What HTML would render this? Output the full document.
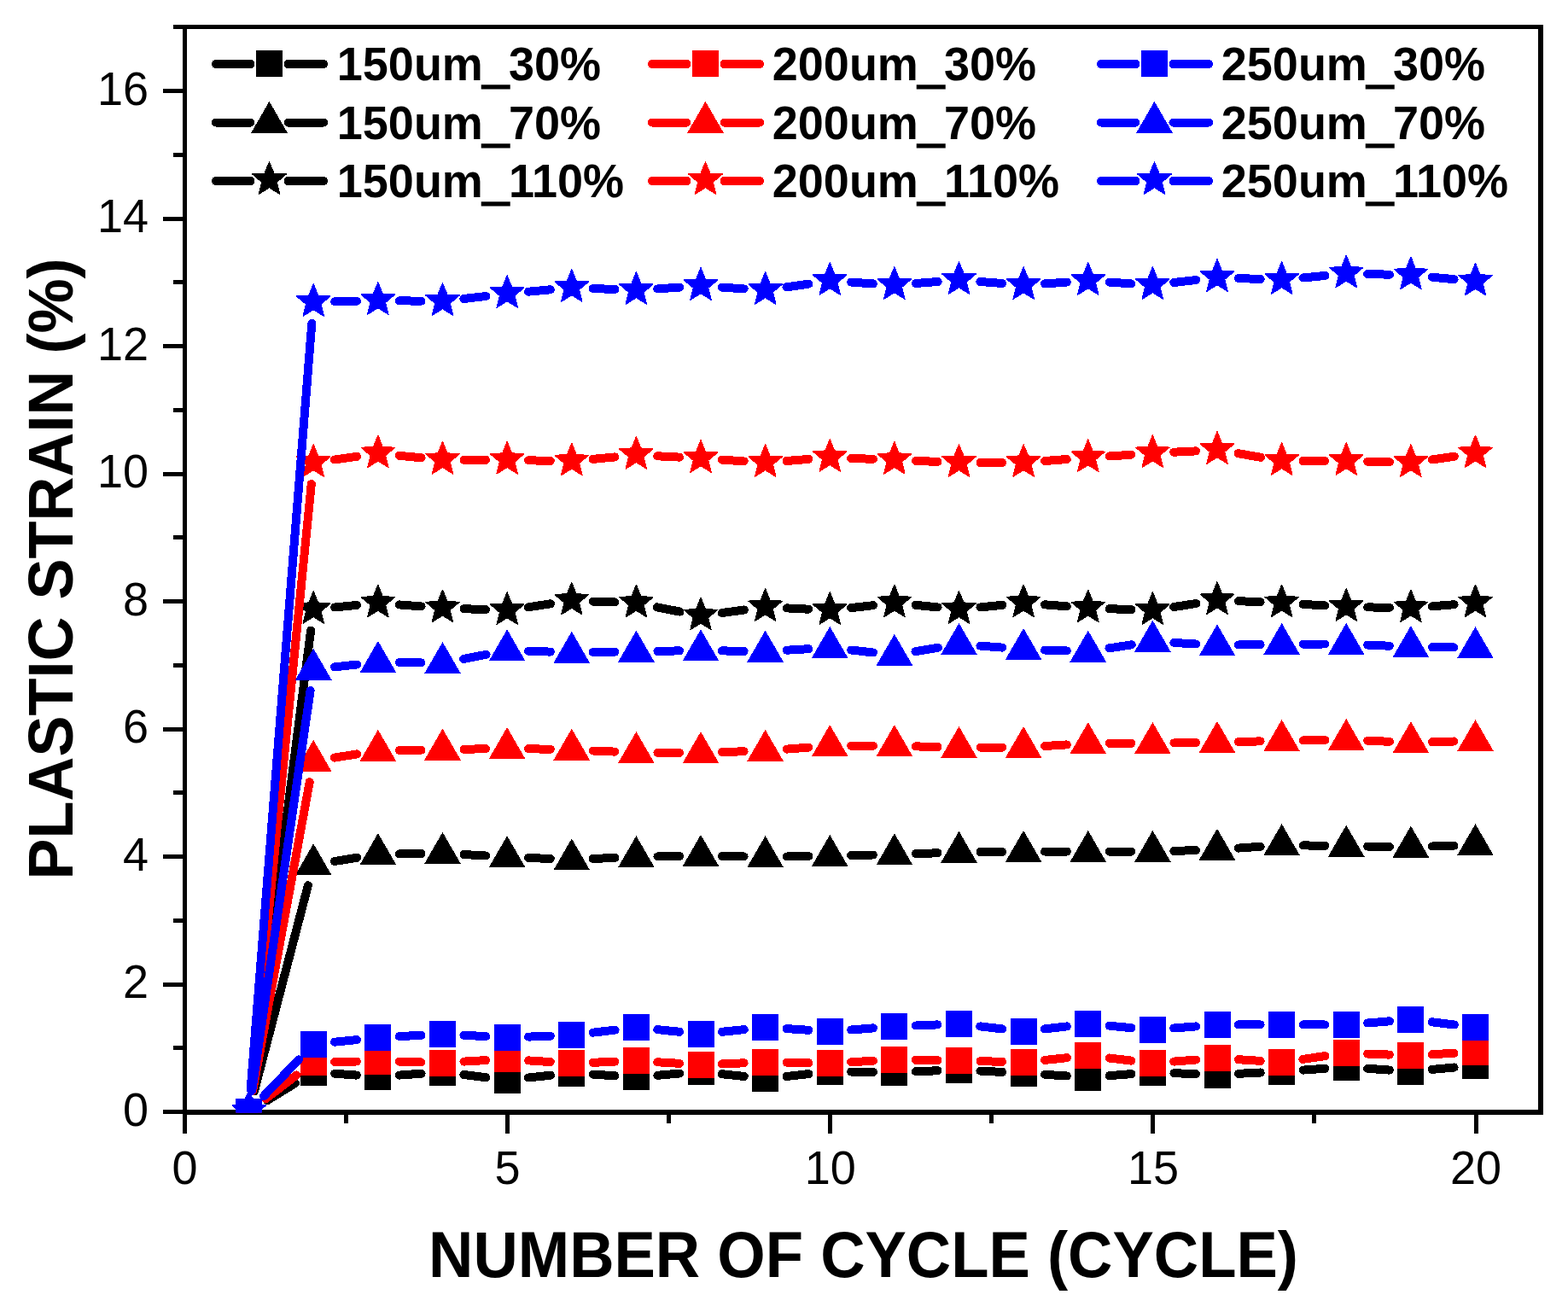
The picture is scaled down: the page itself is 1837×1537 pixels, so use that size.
<!DOCTYPE html>
<html><head><meta charset="utf-8"><title>Plastic strain vs number of cycle</title>
<style>html,body{margin:0;padding:0;background:#fff;overflow:hidden;}svg{display:block;}.t{font-family:"Liberation Sans",Arial,sans-serif;}</style>
</head><body>
<svg width="1837" height="1537" viewBox="0 0 1837 1537" shape-rendering="crispEdges">
<g fill="#000">
<rect x="214" y="29" width="1594" height="5"/>
<rect x="214" y="1300" width="1594" height="6"/>
<rect x="214" y="29" width="5" height="1277"/>
<rect x="1802" y="29" width="6" height="1277"/>
<rect x="191" y="1300" width="24" height="5"/>
<rect x="203" y="1225.2" width="12" height="5"/>
<rect x="191" y="1150.5" width="24" height="5"/>
<rect x="203" y="1075.8" width="12" height="5"/>
<rect x="191" y="1001" width="24" height="5"/>
<rect x="203" y="926.2" width="12" height="5"/>
<rect x="191" y="851.5" width="24" height="5"/>
<rect x="203" y="776.8" width="12" height="5"/>
<rect x="191" y="702" width="24" height="5"/>
<rect x="203" y="627.2" width="12" height="5"/>
<rect x="191" y="552.5" width="24" height="5"/>
<rect x="203" y="477.8" width="12" height="5"/>
<rect x="191" y="403" width="24" height="5"/>
<rect x="203" y="328.2" width="12" height="5"/>
<rect x="191" y="253.5" width="24" height="5"/>
<rect x="203" y="178.8" width="12" height="5"/>
<rect x="191" y="104" width="24" height="5"/>
<rect x="203" y="29.2" width="12" height="5"/>
<rect x="214" y="1303" width="5" height="25"/>
<rect x="403.1" y="1303" width="5" height="13"/>
<rect x="592.1" y="1303" width="5" height="25"/>
<rect x="781.2" y="1303" width="5" height="13"/>
<rect x="970.2" y="1303" width="5" height="25"/>
<rect x="1159.3" y="1303" width="5" height="13"/>
<rect x="1348.4" y="1303" width="5" height="25"/>
<rect x="1537.4" y="1303" width="5" height="13"/>
<rect x="1726.5" y="1303" width="5" height="25"/>
</g>
<g class="t" font-size="54" fill="#000">
<text transform="translate(174 1318.9) scale(1 1.04)" text-anchor="end">0</text>
<text transform="translate(174 1169.4) scale(1 1.04)" text-anchor="end">2</text>
<text transform="translate(174 1019.9) scale(1 1.04)" text-anchor="end">4</text>
<text transform="translate(174 870.4) scale(1 1.04)" text-anchor="end">6</text>
<text transform="translate(174 720.9) scale(1 1.04)" text-anchor="end">8</text>
<text transform="translate(174 571.4) scale(1 1.04)" text-anchor="end">10</text>
<text transform="translate(174 421.9) scale(1 1.04)" text-anchor="end">12</text>
<text transform="translate(174 272.4) scale(1 1.04)" text-anchor="end">14</text>
<text transform="translate(174 122.9) scale(1 1.04)" text-anchor="end">16</text>
<text transform="translate(216.5 1387) scale(1 1.04)" text-anchor="middle">0</text>
<text transform="translate(594.6 1387) scale(1 1.04)" text-anchor="middle">5</text>
<text transform="translate(972.8 1387) scale(1 1.04)" text-anchor="middle">10</text>
<text transform="translate(1350.9 1387) scale(1 1.04)" text-anchor="middle">15</text>
<text transform="translate(1729 1387) scale(1 1.04)" text-anchor="middle">20</text>
</g>
<g class="t" font-size="72.5" font-weight="bold" fill="#000">
<text transform="translate(1011.5 1496) scale(1 1.04)" text-anchor="middle">NUMBER OF CYCLE (CYCLE)</text>
<text transform="translate(85 666.5) rotate(-90) scale(1 1.04)" text-anchor="middle" font-size="72">PLASTIC STRAIN (%)</text>
</g>
<defs><clipPath id="pa"><rect x="216.5" y="31.5" width="1588.5" height="1272"/></clipPath></defs>
<g clip-path="url(#pa)">
<path d="M313 1289.2L345.9 1269M392.2 1257.7L417.9 1259.6M467.8 1259.6L493.6 1257.7M543.3 1259L569.3 1262.2M619 1262.5L644.9 1259.7M694.7 1258.6L720.4 1260.3M770.3 1259.8L796.1 1257.5M845.8 1258.2L871.8 1261M921.5 1261L947.4 1258.1M997.2 1255.6L1022.9 1255.9M1072.9 1255.2L1098.5 1254.3M1148.5 1254.6L1174.2 1255.9M1224.1 1258.8L1249.8 1260.5M1299.7 1260.2L1325.5 1258.1M1375.4 1257.2L1401 1258.1M1451 1257.8L1476.7 1256.5M1526.6 1253.6L1552.3 1251.8M1602.2 1251.8L1627.9 1253.6M1677.8 1252.9L1703.6 1250.5" stroke="#000" stroke-width="10" stroke-linecap="round" fill="none"/>
<rect x="276.1" y="1286.7" width="31" height="31" fill="#000"/>
<rect x="351.8" y="1240.5" width="31" height="31" fill="#000"/>
<rect x="427.4" y="1245.8" width="31" height="31" fill="#000"/>
<rect x="503" y="1240.5" width="31" height="31" fill="#000"/>
<rect x="578.6" y="1249.7" width="31" height="31" fill="#000"/>
<rect x="654.2" y="1241.5" width="31" height="31" fill="#000"/>
<rect x="729.9" y="1246.4" width="31" height="31" fill="#000"/>
<rect x="805.5" y="1239.9" width="31" height="31" fill="#000"/>
<rect x="881.1" y="1248.3" width="31" height="31" fill="#000"/>
<rect x="956.8" y="1239.8" width="31" height="31" fill="#000"/>
<rect x="1032.4" y="1240.7" width="31" height="31" fill="#000"/>
<rect x="1108" y="1237.8" width="31" height="31" fill="#000"/>
<rect x="1183.6" y="1241.7" width="31" height="31" fill="#000"/>
<rect x="1259.2" y="1246.6" width="31" height="31" fill="#000"/>
<rect x="1334.9" y="1240.7" width="31" height="31" fill="#000"/>
<rect x="1410.5" y="1243.6" width="31" height="31" fill="#000"/>
<rect x="1486.1" y="1239.7" width="31" height="31" fill="#000"/>
<rect x="1561.8" y="1234.7" width="31" height="31" fill="#000"/>
<rect x="1637.4" y="1239.7" width="31" height="31" fill="#000"/>
<rect x="1713" y="1232.7" width="31" height="31" fill="#000"/>
<path d="M297.9 1278.3L360.9 1037.2M391.9 1009L418.2 1004.8M467.9 1000.4L493.5 1000M543.5 1001L569.2 1002.5M619.1 1004.9L644.8 1006M694.7 1006L720.4 1004.9M770.4 1003.5L796 1003M846 1003L871.6 1003.5M921.6 1003.5L947.3 1003M997.2 1002.1L1022.9 1001.5M1072.9 1000.1L1098.5 999.3M1148.5 998.1L1174.1 997.9M1224.1 997.6L1249.8 997.6M1299.8 997.6L1325.4 997.6M1375.4 996.9L1401 996.1M1450.9 993.6L1476.7 991.7M1526.6 990.4L1552.3 990.8M1602.2 991.6L1627.9 992M1677.9 991.5L1703.5 990.7" stroke="#000" stroke-width="10" stroke-linecap="round" fill="none"/>
<polygon points="291.6,1277.8 313,1314.8 270.2,1314.8" fill="#000"/>
<polygon points="367.2,988.3 388.6,1025.3 345.9,1025.3" fill="#000"/>
<polygon points="442.9,976.1 464.3,1013.1 421.5,1013.1" fill="#000"/>
<polygon points="518.5,974.9 539.9,1012 497.1,1012" fill="#000"/>
<polygon points="594.1,979.2 615.5,1016.2 572.7,1016.2" fill="#000"/>
<polygon points="669.8,982.3 691.1,1019.4 648.4,1019.4" fill="#000"/>
<polygon points="745.4,979.2 766.8,1016.2 724,1016.2" fill="#000"/>
<polygon points="821,977.9 842.4,1015 799.6,1015" fill="#000"/>
<polygon points="896.6,979.2 918,1016.2 875.2,1016.2" fill="#000"/>
<polygon points="972.2,977.9 993.6,1015 950.9,1015" fill="#000"/>
<polygon points="1047.9,976.3 1069.3,1013.4 1026.5,1013.4" fill="#000"/>
<polygon points="1123.5,973.7 1144.9,1010.8 1102.1,1010.8" fill="#000"/>
<polygon points="1199.1,972.9 1220.5,1010 1177.7,1010" fill="#000"/>
<polygon points="1274.8,972.9 1296.1,1010 1253.4,1010" fill="#000"/>
<polygon points="1350.4,972.9 1371.8,1010 1329,1010" fill="#000"/>
<polygon points="1426,970.7 1447.4,1007.8 1404.6,1007.8" fill="#000"/>
<polygon points="1501.6,965.2 1523,1002.2 1480.2,1002.2" fill="#000"/>
<polygon points="1577.2,966.6 1598.6,1003.6 1555.9,1003.6" fill="#000"/>
<polygon points="1652.9,967.6 1674.3,1004.6 1631.5,1004.6" fill="#000"/>
<polygon points="1728.5,965.2 1749.9,1002.2 1707.1,1002.2" fill="#000"/>
<path d="M294.8 1276.7L364.1 738.7M392.1 711.5L418 708.9M467.8 708.4L493.6 710.4M543.5 713.2L569.1 714.1M618.8 711.3L645 707.3M694.7 704.6L720.4 705.5M769.9 711.3L796.5 716.6M845.8 718L871.9 714.5M921.6 712.4L947.3 713.7M997.1 712.1L1023 709.2M1072.7 708.8L1098.6 711.4M1148.4 711.4L1174.3 708.8M1224 708.3L1249.8 710.3M1299.7 713.2L1325.4 714.1M1375.1 711.1L1401.3 707M1451 704.2L1476.6 705.2M1526.6 707.9L1552.3 709.4M1602.2 711.4L1627.9 711.8M1677.8 710.3L1703.6 708.2" stroke="#000" stroke-width="10" stroke-linecap="round" fill="none"/>
<polygon points="291.6,1280.5 297.1,1294 311.6,1295 300.5,1304.4 304,1318.5 291.6,1310.8 279.3,1318.5 282.8,1304.4 271.7,1295 286.2,1294" fill="#000" stroke="#000" stroke-width="1" stroke-linejoin="bevel"/>
<polygon points="367.2,692.4 372.7,705.9 387.2,706.9 376.1,716.3 379.6,730.4 367.2,722.7 354.9,730.4 358.4,716.3 347.3,706.9 361.8,705.9" fill="#000" stroke="#000" stroke-width="1" stroke-linejoin="bevel"/>
<polygon points="442.9,685 448.3,698.5 462.8,699.5 451.7,708.9 455.2,723 442.9,715.3 430.5,723 434,708.9 422.9,699.5 437.4,698.5" fill="#000" stroke="#000" stroke-width="1" stroke-linejoin="bevel"/>
<polygon points="518.5,690.8 524,704.3 538.5,705.3 527.3,714.7 530.8,728.8 518.5,721.1 506.2,728.8 509.7,714.7 498.5,705.3 513,704.3" fill="#000" stroke="#000" stroke-width="1" stroke-linejoin="bevel"/>
<polygon points="594.1,693.5 599.6,707 614.1,708 603,717.4 606.5,731.5 594.1,723.8 581.8,731.5 585.3,717.4 574.2,708 588.7,707" fill="#000" stroke="#000" stroke-width="1" stroke-linejoin="bevel"/>
<polygon points="669.8,682.1 675.2,695.6 689.7,696.6 678.6,706 682.1,720.1 669.8,712.4 657.4,720.1 660.9,706 649.8,696.6 664.3,695.6" fill="#000" stroke="#000" stroke-width="1" stroke-linejoin="bevel"/>
<polygon points="745.4,685 750.8,698.5 765.3,699.5 754.2,708.9 757.7,723 745.4,715.3 733,723 736.5,708.9 725.4,699.5 739.9,698.5" fill="#000" stroke="#000" stroke-width="1" stroke-linejoin="bevel"/>
<polygon points="821,699.9 826.5,713.4 841,714.4 829.8,723.8 833.3,737.9 821,730.2 808.7,737.9 812.2,723.8 801,714.4 815.5,713.4" fill="#000" stroke="#000" stroke-width="1" stroke-linejoin="bevel"/>
<polygon points="896.6,689.6 902.1,703.1 916.6,704.1 905.5,713.5 909,727.6 896.6,719.9 884.3,727.6 887.8,713.5 876.7,704.1 891.2,703.1" fill="#000" stroke="#000" stroke-width="1" stroke-linejoin="bevel"/>
<polygon points="972.2,693.5 977.7,707 992.2,708 981.1,717.4 984.6,731.5 972.2,723.8 959.9,731.5 963.4,717.4 952.3,708 966.8,707" fill="#000" stroke="#000" stroke-width="1" stroke-linejoin="bevel"/>
<polygon points="1047.9,684.8 1053.3,698.3 1067.8,699.3 1056.7,708.7 1060.2,722.8 1047.9,715.1 1035.5,722.8 1039,708.7 1027.9,699.3 1042.4,698.3" fill="#000" stroke="#000" stroke-width="1" stroke-linejoin="bevel"/>
<polygon points="1123.5,692.4 1129,705.9 1143.5,706.9 1132.3,716.3 1135.8,730.4 1123.5,722.7 1111.2,730.4 1114.7,716.3 1103.5,706.9 1118,705.9" fill="#000" stroke="#000" stroke-width="1" stroke-linejoin="bevel"/>
<polygon points="1199.1,684.8 1204.6,698.3 1219.1,699.3 1208,708.7 1211.5,722.8 1199.1,715.1 1186.8,722.8 1190.3,708.7 1179.2,699.3 1193.7,698.3" fill="#000" stroke="#000" stroke-width="1" stroke-linejoin="bevel"/>
<polygon points="1274.8,690.8 1280.2,704.3 1294.7,705.3 1283.6,714.7 1287.1,728.8 1274.8,721.1 1262.4,728.8 1265.9,714.7 1254.8,705.3 1269.3,704.3" fill="#000" stroke="#000" stroke-width="1" stroke-linejoin="bevel"/>
<polygon points="1350.4,693.5 1355.8,707 1370.3,708 1359.2,717.4 1362.7,731.5 1350.4,723.8 1338,731.5 1341.5,717.4 1330.4,708 1344.9,707" fill="#000" stroke="#000" stroke-width="1" stroke-linejoin="bevel"/>
<polygon points="1426,681.6 1431.5,695.1 1446,696.1 1434.8,705.5 1438.3,719.6 1426,711.9 1413.7,719.6 1417.2,705.5 1406,696.1 1420.5,695.1" fill="#000" stroke="#000" stroke-width="1" stroke-linejoin="bevel"/>
<polygon points="1501.6,684.8 1507.1,698.3 1521.6,699.3 1510.5,708.7 1514,722.8 1501.6,715.1 1489.3,722.8 1492.8,708.7 1481.7,699.3 1496.2,698.3" fill="#000" stroke="#000" stroke-width="1" stroke-linejoin="bevel"/>
<polygon points="1577.2,689.5 1582.7,703 1597.2,704 1586.1,713.4 1589.6,727.5 1577.2,719.8 1564.9,727.5 1568.4,713.4 1557.3,704 1571.8,703" fill="#000" stroke="#000" stroke-width="1" stroke-linejoin="bevel"/>
<polygon points="1652.9,690.7 1658.3,704.2 1672.8,705.2 1661.7,714.6 1665.2,728.7 1652.9,721 1640.5,728.7 1644,714.6 1632.9,705.2 1647.4,704.2" fill="#000" stroke="#000" stroke-width="1" stroke-linejoin="bevel"/>
<polygon points="1728.5,684.8 1734,698.3 1748.5,699.3 1737.3,708.7 1740.8,722.8 1728.5,715.1 1716.2,722.8 1719.7,708.7 1708.5,699.3 1723,698.3" fill="#000" stroke="#000" stroke-width="1" stroke-linejoin="bevel"/>
<path d="M311.5 1287L347.4 1259.5M392.2 1243.9L417.9 1243.5M467.9 1243.7L493.5 1244.4M543.5 1243.6L569.2 1242.1M619.1 1242.4L644.8 1244.1M694.7 1244.8L720.4 1243.7M770.3 1244.3L796 1245.8M846 1246.4L871.6 1245.3M921.6 1244.7L947.3 1245.1M997.2 1244.2L1022.9 1242.8M1072.9 1241.8L1098.5 1242.2M1148.5 1243.2L1174.1 1243.8M1224 1241.9L1249.9 1239.2M1299.6 1239.5L1325.5 1242.6M1375.3 1243.6L1401.1 1241.5M1450.9 1241.2L1476.7 1242.9M1526.4 1240.9L1552.5 1237.1M1602.2 1234.5L1627.9 1235.6M1677.8 1235.2L1703.5 1233.7" stroke="#f00" stroke-width="10" stroke-linecap="round" fill="none"/>
<rect x="276.1" y="1286.7" width="31" height="31" fill="#f00"/>
<rect x="351.8" y="1228.8" width="31" height="31" fill="#f00"/>
<rect x="427.4" y="1227.6" width="31" height="31" fill="#f00"/>
<rect x="503" y="1229.5" width="31" height="31" fill="#f00"/>
<rect x="578.6" y="1225.2" width="31" height="31" fill="#f00"/>
<rect x="654.2" y="1230.3" width="31" height="31" fill="#f00"/>
<rect x="729.9" y="1227.2" width="31" height="31" fill="#f00"/>
<rect x="805.5" y="1231.9" width="31" height="31" fill="#f00"/>
<rect x="881.1" y="1228.8" width="31" height="31" fill="#f00"/>
<rect x="956.8" y="1230" width="31" height="31" fill="#f00"/>
<rect x="1032.4" y="1226" width="31" height="31" fill="#f00"/>
<rect x="1108" y="1227" width="31" height="31" fill="#f00"/>
<rect x="1183.6" y="1229" width="31" height="31" fill="#f00"/>
<rect x="1259.2" y="1221.1" width="31" height="31" fill="#f00"/>
<rect x="1334.9" y="1230" width="31" height="31" fill="#f00"/>
<rect x="1410.5" y="1224.1" width="31" height="31" fill="#f00"/>
<rect x="1486.1" y="1229" width="31" height="31" fill="#f00"/>
<rect x="1561.8" y="1218" width="31" height="31" fill="#f00"/>
<rect x="1637.4" y="1221.1" width="31" height="31" fill="#f00"/>
<rect x="1713" y="1216.8" width="31" height="31" fill="#f00"/>
<path d="M296.1 1277.9L362.7 916.1M391.9 887.6L418.2 883.4M467.9 879.1L493.5 878.7M543.5 877.8L569.1 877.2M619.1 877.2L644.8 877.8M694.7 879.5L720.4 880.6M770.4 881.8L796 881.8M846 881L871.6 880.3M921.6 877.6L947.3 875.7M997.2 873.8L1022.9 873.8M1072.9 874.4L1098.5 875M1148.5 875.6L1174.1 875.6M1224.1 874L1249.8 872.4M1299.8 870.8L1325.4 870.8M1375.4 870.4L1401 870M1451 869L1476.6 868.4M1526.6 867.4L1552.3 867M1602.2 867.7L1627.9 868.8M1677.9 869.2L1703.5 868.5" stroke="#f00" stroke-width="10" stroke-linecap="round" fill="none"/>
<polygon points="291.6,1277.8 313,1314.8 270.2,1314.8" fill="#f00"/>
<polygon points="367.2,866.8 388.6,903.9 345.9,903.9" fill="#f00"/>
<polygon points="442.9,854.8 464.3,891.9 421.5,891.9" fill="#f00"/>
<polygon points="518.5,853.6 539.9,890.6 497.1,890.6" fill="#f00"/>
<polygon points="594.1,852 615.5,889.1 572.7,889.1" fill="#f00"/>
<polygon points="669.8,853.6 691.1,890.6 648.4,890.6" fill="#f00"/>
<polygon points="745.4,857.1 766.8,894.1 724,894.1" fill="#f00"/>
<polygon points="821,857.1 842.4,894.1 799.6,894.1" fill="#f00"/>
<polygon points="896.6,854.8 918,891.9 875.2,891.9" fill="#f00"/>
<polygon points="972.2,849.1 993.6,886.1 950.9,886.1" fill="#f00"/>
<polygon points="1047.9,849.1 1069.3,886.1 1026.5,886.1" fill="#f00"/>
<polygon points="1123.5,850.9 1144.9,888 1102.1,888" fill="#f00"/>
<polygon points="1199.1,850.9 1220.5,888 1177.7,888" fill="#f00"/>
<polygon points="1274.8,846.1 1296.1,883.1 1253.4,883.1" fill="#f00"/>
<polygon points="1350.4,846.1 1371.8,883.1 1329,883.1" fill="#f00"/>
<polygon points="1426,844.9 1447.4,882 1404.6,882" fill="#f00"/>
<polygon points="1501.6,843.1 1523,880.1 1480.2,880.1" fill="#f00"/>
<polygon points="1577.2,841.9 1598.6,879 1555.9,879" fill="#f00"/>
<polygon points="1652.9,845.2 1674.3,882.2 1631.5,882.2" fill="#f00"/>
<polygon points="1728.5,843.1 1749.9,880.1 1707.1,880.1" fill="#f00"/>
<path d="M294.1 1276.6L364.8 566.9M392 538.5L418.1 534.8M467.8 533.8L493.6 536.3M543.5 538.8L569.1 538.8M619.1 539.3L644.8 539.9M694.6 537.9L720.5 535.4M770.3 534.3L796 535.6M845.9 538.6L871.7 540.4M921.5 540L947.3 537.9M997.2 536.9L1022.9 537.8M1072.9 539.9L1098.5 540.9M1148.5 542L1174.1 541.9M1224.1 540L1249.8 538M1299.7 534.5L1325.4 532.7M1375.3 529.7L1401 528.4M1450.6 531.2L1477 535.8M1526.6 540L1552.2 540M1602.2 540.7L1627.9 541.3M1677.6 538.5L1703.8 534.7" stroke="#f00" stroke-width="10" stroke-linecap="round" fill="none"/>
<polygon points="291.6,1280.5 297.1,1294 311.6,1295 300.5,1304.4 304,1318.5 291.6,1310.8 279.3,1318.5 282.8,1304.4 271.7,1295 286.2,1294" fill="#f00" stroke="#f00" stroke-width="1" stroke-linejoin="bevel"/>
<polygon points="367.2,520.5 372.7,534 387.2,535 376.1,544.4 379.6,558.5 367.2,550.8 354.9,558.5 358.4,544.4 347.3,535 361.8,534" fill="#f00" stroke="#f00" stroke-width="1" stroke-linejoin="bevel"/>
<polygon points="442.9,509.8 448.3,523.3 462.8,524.3 451.7,533.7 455.2,547.8 442.9,540.1 430.5,547.8 434,533.7 422.9,524.3 437.4,523.3" fill="#f00" stroke="#f00" stroke-width="1" stroke-linejoin="bevel"/>
<polygon points="518.5,517.3 524,530.8 538.5,531.8 527.3,541.2 530.8,555.3 518.5,547.6 506.2,555.3 509.7,541.2 498.5,531.8 513,530.8" fill="#f00" stroke="#f00" stroke-width="1" stroke-linejoin="bevel"/>
<polygon points="594.1,517.3 599.6,530.8 614.1,531.8 603,541.2 606.5,555.3 594.1,547.6 581.8,555.3 585.3,541.2 574.2,531.8 588.7,530.8" fill="#f00" stroke="#f00" stroke-width="1" stroke-linejoin="bevel"/>
<polygon points="669.8,518.9 675.2,532.4 689.7,533.4 678.6,542.8 682.1,556.9 669.8,549.2 657.4,556.9 660.9,542.8 649.8,533.4 664.3,532.4" fill="#f00" stroke="#f00" stroke-width="1" stroke-linejoin="bevel"/>
<polygon points="745.4,511.4 750.8,524.9 765.3,525.9 754.2,535.3 757.7,549.4 745.4,541.7 733,549.4 736.5,535.3 725.4,525.9 739.9,524.9" fill="#f00" stroke="#f00" stroke-width="1" stroke-linejoin="bevel"/>
<polygon points="821,515.5 826.5,529 841,530 829.8,539.4 833.3,553.5 821,545.8 808.7,553.5 812.2,539.4 801,530 815.5,529" fill="#f00" stroke="#f00" stroke-width="1" stroke-linejoin="bevel"/>
<polygon points="896.6,520.5 902.1,534 916.6,535 905.5,544.4 909,558.5 896.6,550.8 884.3,558.5 887.8,544.4 876.7,535 891.2,534" fill="#f00" stroke="#f00" stroke-width="1" stroke-linejoin="bevel"/>
<polygon points="972.2,514.4 977.7,527.9 992.2,528.9 981.1,538.3 984.6,552.4 972.2,544.7 959.9,552.4 963.4,538.3 952.3,528.9 966.8,527.9" fill="#f00" stroke="#f00" stroke-width="1" stroke-linejoin="bevel"/>
<polygon points="1047.9,517.3 1053.3,530.8 1067.8,531.8 1056.7,541.2 1060.2,555.3 1047.9,547.6 1035.5,555.3 1039,541.2 1027.9,531.8 1042.4,530.8" fill="#f00" stroke="#f00" stroke-width="1" stroke-linejoin="bevel"/>
<polygon points="1123.5,520.5 1129,534 1143.5,535 1132.3,544.4 1135.8,558.5 1123.5,550.8 1111.2,558.5 1114.7,544.4 1103.5,535 1118,534" fill="#f00" stroke="#f00" stroke-width="1" stroke-linejoin="bevel"/>
<polygon points="1199.1,520.4 1204.6,533.9 1219.1,534.9 1208,544.3 1211.5,558.4 1199.1,550.7 1186.8,558.4 1190.3,544.3 1179.2,534.9 1193.7,533.9" fill="#f00" stroke="#f00" stroke-width="1" stroke-linejoin="bevel"/>
<polygon points="1274.8,514.6 1280.2,528.1 1294.7,529.1 1283.6,538.5 1287.1,552.6 1274.8,544.9 1262.4,552.6 1265.9,538.5 1254.8,529.1 1269.3,528.1" fill="#f00" stroke="#f00" stroke-width="1" stroke-linejoin="bevel"/>
<polygon points="1350.4,509.6 1355.8,523.1 1370.3,524.1 1359.2,533.5 1362.7,547.6 1350.4,539.9 1338,547.6 1341.5,533.5 1330.4,524.1 1344.9,523.1" fill="#f00" stroke="#f00" stroke-width="1" stroke-linejoin="bevel"/>
<polygon points="1426,505.5 1431.5,519 1446,520 1434.8,529.4 1438.3,543.5 1426,535.8 1413.7,543.5 1417.2,529.4 1406,520 1420.5,519" fill="#f00" stroke="#f00" stroke-width="1" stroke-linejoin="bevel"/>
<polygon points="1501.6,518.5 1507.1,532 1521.6,533 1510.5,542.4 1514,556.5 1501.6,548.8 1489.3,556.5 1492.8,542.4 1481.7,533 1496.2,532" fill="#f00" stroke="#f00" stroke-width="1" stroke-linejoin="bevel"/>
<polygon points="1577.2,518.5 1582.7,532 1597.2,533 1586.1,542.4 1589.6,556.5 1577.2,548.8 1564.9,556.5 1568.4,542.4 1557.3,533 1571.8,532" fill="#f00" stroke="#f00" stroke-width="1" stroke-linejoin="bevel"/>
<polygon points="1652.9,520.5 1658.3,534 1672.8,535 1661.7,544.4 1665.2,558.5 1652.9,550.8 1640.5,558.5 1644,544.4 1632.9,535 1647.4,534" fill="#f00" stroke="#f00" stroke-width="1" stroke-linejoin="bevel"/>
<polygon points="1728.5,509.7 1734,523.2 1748.5,524.2 1737.3,533.6 1740.8,547.7 1728.5,540 1716.2,547.7 1719.7,533.6 1708.5,524.2 1723,523.2" fill="#f00" stroke="#f00" stroke-width="1" stroke-linejoin="bevel"/>
<path d="M308.9 1284.2L350 1241.3M392.1 1220.7L418 1218.1M467.8 1214.1L493.5 1212.8M543.5 1212.8L569.2 1214.1M619.1 1214.6L644.8 1213.7M694.6 1209.7L720.6 1206.6M770.2 1206.1L796.1 1208.8M845.9 1208.8L871.8 1206.1M921.6 1205.1L947.3 1206.8M997.2 1206.5L1023 1204.4M1072.9 1201.5L1098.5 1200.4M1148.3 1202.4L1174.3 1205.4M1223.9 1205.4L1249.9 1202.4M1299.6 1201.7L1325.5 1204.2M1375.3 1204.5L1401.1 1202.4M1451 1200.4L1476.6 1200.4M1526.6 1200.4L1552.3 1200.5M1602.2 1198.5L1628 1196.3M1677.7 1197.3L1703.7 1200.5" stroke="#00f" stroke-width="10" stroke-linecap="round" fill="none"/>
<rect x="276.1" y="1286.7" width="31" height="31" fill="#00f"/>
<rect x="351.8" y="1207.8" width="31" height="31" fill="#00f"/>
<rect x="427.4" y="1200" width="31" height="31" fill="#00f"/>
<rect x="503" y="1195.9" width="31" height="31" fill="#00f"/>
<rect x="578.6" y="1200" width="31" height="31" fill="#00f"/>
<rect x="654.2" y="1197.3" width="31" height="31" fill="#00f"/>
<rect x="729.9" y="1188" width="31" height="31" fill="#00f"/>
<rect x="805.5" y="1195.9" width="31" height="31" fill="#00f"/>
<rect x="881.1" y="1188" width="31" height="31" fill="#00f"/>
<rect x="956.8" y="1192.9" width="31" height="31" fill="#00f"/>
<rect x="1032.4" y="1187" width="31" height="31" fill="#00f"/>
<rect x="1108" y="1183.9" width="31" height="31" fill="#00f"/>
<rect x="1183.6" y="1192.9" width="31" height="31" fill="#00f"/>
<rect x="1259.2" y="1183.9" width="31" height="31" fill="#00f"/>
<rect x="1334.9" y="1191" width="31" height="31" fill="#00f"/>
<rect x="1410.5" y="1184.9" width="31" height="31" fill="#00f"/>
<rect x="1486.1" y="1184.9" width="31" height="31" fill="#00f"/>
<rect x="1561.8" y="1185" width="31" height="31" fill="#00f"/>
<rect x="1637.4" y="1178.8" width="31" height="31" fill="#00f"/>
<rect x="1713" y="1188" width="31" height="31" fill="#00f"/>
<path d="M295.2 1277.8L363.6 809M392.1 781.4L418 778.5M467.9 776L493.5 776.4M543 772L569.6 766.8M619.1 762.8L644.8 763.6M694.7 764L720.4 763.7M770.4 762.9L796 762.4M846 762.4L871.6 762.9M921.6 761.7L947.3 760.2M997.1 761.5L1023 764.5M1072.5 763.2L1098.9 758.8M1148.4 756.6L1174.2 758.6M1224.1 761.5L1249.8 762.4M1299.4 759.4L1325.7 755.3M1375.3 752.9L1401 754.5M1451 755.5L1476.6 755.1M1526.6 754.6L1552.3 754.5M1602.2 755.6L1627.9 756.7M1677.9 758.2L1703.5 758.5" stroke="#00f" stroke-width="10" stroke-linecap="round" fill="none"/>
<polygon points="291.6,1277.8 313,1314.8 270.2,1314.8" fill="#00f"/>
<polygon points="367.2,759.6 388.6,796.6 345.9,796.6" fill="#00f"/>
<polygon points="442.9,750.9 464.3,788 421.5,788" fill="#00f"/>
<polygon points="518.5,752.1 539.9,789.1 497.1,789.1" fill="#00f"/>
<polygon points="594.1,737.3 615.5,774.4 572.7,774.4" fill="#00f"/>
<polygon points="669.8,739.7 691.1,776.8 648.4,776.8" fill="#00f"/>
<polygon points="745.4,738.6 766.8,775.6 724,775.6" fill="#00f"/>
<polygon points="821,737.3 842.4,774.4 799.6,774.4" fill="#00f"/>
<polygon points="896.6,738.6 918,775.6 875.2,775.6" fill="#00f"/>
<polygon points="972.2,733.9 993.6,771 950.9,771" fill="#00f"/>
<polygon points="1047.9,742.7 1069.3,779.8 1026.5,779.8" fill="#00f"/>
<polygon points="1123.5,729.9 1144.9,767 1102.1,767" fill="#00f"/>
<polygon points="1199.1,735.9 1220.5,773 1177.7,773" fill="#00f"/>
<polygon points="1274.8,738.6 1296.1,775.6 1253.4,775.6" fill="#00f"/>
<polygon points="1350.4,726.7 1371.8,763.8 1329,763.8" fill="#00f"/>
<polygon points="1426,731.3 1447.4,768.4 1404.6,768.4" fill="#00f"/>
<polygon points="1501.6,729.9 1523,767 1480.2,767" fill="#00f"/>
<polygon points="1577.2,729.8 1598.6,766.9 1555.9,766.9" fill="#00f"/>
<polygon points="1652.9,733.1 1674.3,770.1 1631.5,770.1" fill="#00f"/>
<polygon points="1728.5,734.2 1749.9,771.2 1707.1,771.2" fill="#00f"/>
<path d="M293.6 1276.6L365.3 378.9M392.2 353.3L417.9 352.7M467.9 352.3L493.5 352.7M543.3 350L569.3 347M619 341.7L644.9 339.3M694.7 338L720.4 339M770.3 338.4L796.1 336.6M845.9 336.6L871.7 338.4M921.4 336.4L947.5 332.6M997.2 330.6L1022.9 332.4M1072.8 332L1098.6 330M1148.4 330L1174.2 332M1224.1 332.4L1249.8 330.6M1299.7 330.6L1325.4 332.4M1375.2 331L1401.2 328M1451 326L1476.6 327M1526.5 325.5L1552.4 322.9M1602.2 321L1627.9 321.7M1677.8 324.7L1703.6 327.2" stroke="#00f" stroke-width="10" stroke-linecap="round" fill="none"/>
<polygon points="291.6,1280.5 297.1,1294 311.6,1295 300.5,1304.4 304,1318.5 291.6,1310.8 279.3,1318.5 282.8,1304.4 271.7,1295 286.2,1294" fill="#00f" stroke="#00f" stroke-width="1" stroke-linejoin="bevel"/>
<polygon points="367.2,332.5 372.7,346 387.2,347 376.1,356.4 379.6,370.5 367.2,362.8 354.9,370.5 358.4,356.4 347.3,347 361.8,346" fill="#00f" stroke="#00f" stroke-width="1" stroke-linejoin="bevel"/>
<polygon points="442.9,330.5 448.3,344 462.8,345 451.7,354.4 455.2,368.5 442.9,360.8 430.5,368.5 434,354.4 422.9,345 437.4,344" fill="#00f" stroke="#00f" stroke-width="1" stroke-linejoin="bevel"/>
<polygon points="518.5,331.5 524,345 538.5,346 527.3,355.4 530.8,369.5 518.5,361.8 506.2,369.5 509.7,355.4 498.5,346 513,345" fill="#00f" stroke="#00f" stroke-width="1" stroke-linejoin="bevel"/>
<polygon points="594.1,322.5 599.6,336 614.1,337 603,346.4 606.5,360.5 594.1,352.8 581.8,360.5 585.3,346.4 574.2,337 588.7,336" fill="#00f" stroke="#00f" stroke-width="1" stroke-linejoin="bevel"/>
<polygon points="669.8,315.5 675.2,329 689.7,330 678.6,339.4 682.1,353.5 669.8,345.8 657.4,353.5 660.9,339.4 649.8,330 664.3,329" fill="#00f" stroke="#00f" stroke-width="1" stroke-linejoin="bevel"/>
<polygon points="745.4,318.5 750.8,332 765.3,333 754.2,342.4 757.7,356.5 745.4,348.8 733,356.5 736.5,342.4 725.4,333 739.9,332" fill="#00f" stroke="#00f" stroke-width="1" stroke-linejoin="bevel"/>
<polygon points="821,313.5 826.5,327 841,328 829.8,337.4 833.3,351.5 821,343.8 808.7,351.5 812.2,337.4 801,328 815.5,327" fill="#00f" stroke="#00f" stroke-width="1" stroke-linejoin="bevel"/>
<polygon points="896.6,318.5 902.1,332 916.6,333 905.5,342.4 909,356.5 896.6,348.8 884.3,356.5 887.8,342.4 876.7,333 891.2,332" fill="#00f" stroke="#00f" stroke-width="1" stroke-linejoin="bevel"/>
<polygon points="972.2,307.5 977.7,321 992.2,322 981.1,331.4 984.6,345.5 972.2,337.8 959.9,345.5 963.4,331.4 952.3,322 966.8,321" fill="#00f" stroke="#00f" stroke-width="1" stroke-linejoin="bevel"/>
<polygon points="1047.9,312.5 1053.3,326 1067.8,327 1056.7,336.4 1060.2,350.5 1047.9,342.8 1035.5,350.5 1039,336.4 1027.9,327 1042.4,326" fill="#00f" stroke="#00f" stroke-width="1" stroke-linejoin="bevel"/>
<polygon points="1123.5,306.5 1129,320 1143.5,321 1132.3,330.4 1135.8,344.5 1123.5,336.8 1111.2,344.5 1114.7,330.4 1103.5,321 1118,320" fill="#00f" stroke="#00f" stroke-width="1" stroke-linejoin="bevel"/>
<polygon points="1199.1,312.5 1204.6,326 1219.1,327 1208,336.4 1211.5,350.5 1199.1,342.8 1186.8,350.5 1190.3,336.4 1179.2,327 1193.7,326" fill="#00f" stroke="#00f" stroke-width="1" stroke-linejoin="bevel"/>
<polygon points="1274.8,307.5 1280.2,321 1294.7,322 1283.6,331.4 1287.1,345.5 1274.8,337.8 1262.4,345.5 1265.9,331.4 1254.8,322 1269.3,321" fill="#00f" stroke="#00f" stroke-width="1" stroke-linejoin="bevel"/>
<polygon points="1350.4,312.5 1355.8,326 1370.3,327 1359.2,336.4 1362.7,350.5 1350.4,342.8 1338,350.5 1341.5,336.4 1330.4,327 1344.9,326" fill="#00f" stroke="#00f" stroke-width="1" stroke-linejoin="bevel"/>
<polygon points="1426,303.5 1431.5,317 1446,318 1434.8,327.4 1438.3,341.5 1426,333.8 1413.7,341.5 1417.2,327.4 1406,318 1420.5,317" fill="#00f" stroke="#00f" stroke-width="1" stroke-linejoin="bevel"/>
<polygon points="1501.6,306.5 1507.1,320 1521.6,321 1510.5,330.4 1514,344.5 1501.6,336.8 1489.3,344.5 1492.8,330.4 1481.7,321 1496.2,320" fill="#00f" stroke="#00f" stroke-width="1" stroke-linejoin="bevel"/>
<polygon points="1577.2,298.9 1582.7,312.4 1597.2,313.4 1586.1,322.8 1589.6,336.9 1577.2,329.2 1564.9,336.9 1568.4,322.8 1557.3,313.4 1571.8,312.4" fill="#00f" stroke="#00f" stroke-width="1" stroke-linejoin="bevel"/>
<polygon points="1652.9,300.8 1658.3,314.3 1672.8,315.3 1661.7,324.7 1665.2,338.8 1652.9,331.1 1640.5,338.8 1644,324.7 1632.9,315.3 1647.4,314.3" fill="#00f" stroke="#00f" stroke-width="1" stroke-linejoin="bevel"/>
<polygon points="1728.5,308.1 1734,321.6 1748.5,322.6 1737.3,332 1740.8,346.1 1728.5,338.4 1716.2,346.1 1719.7,332 1708.5,322.6 1723,321.6" fill="#00f" stroke="#00f" stroke-width="1" stroke-linejoin="bevel"/>
</g>
<g class="t" font-size="54" font-weight="bold" fill="#000">
<path d="M253 75H293.5M337.5 75H379" stroke="#000" stroke-width="10" stroke-linecap="round" fill="none"/>
<rect x="300" y="58.5" width="31" height="31" fill="#000"/>
<text transform="translate(394.8 94) scale(1 1.04)">150um<tspan dy="2" stroke="#000" stroke-width="3">_</tspan><tspan dy="-2">30%</tspan></text>
<path d="M253 143.5H293.5M337.5 143.5H379" stroke="#000" stroke-width="10" stroke-linecap="round" fill="none"/>
<polygon points="315.5,118.8 336.9,155.8 294.1,155.8" fill="#000"/>
<text transform="translate(394.8 162.5) scale(1 1.04)">150um<tspan dy="2" stroke="#000" stroke-width="3">_</tspan><tspan dy="-2">70%</tspan></text>
<path d="M253 212H293.5M337.5 212H379" stroke="#000" stroke-width="10" stroke-linecap="round" fill="none"/>
<polygon points="315.5,189.5 321,203 335.5,204 324.3,213.4 327.8,227.5 315.5,219.8 303.2,227.5 306.7,213.4 295.5,204 310,203" fill="#000" stroke="#000" stroke-width="1" stroke-linejoin="bevel"/>
<text transform="translate(394.8 231) scale(1 1.04)">150um<tspan dy="2" stroke="#000" stroke-width="3">_</tspan><tspan dy="-2">110%</tspan></text>
<path d="M764 75H804.5M848.5 75H890" stroke="#f00" stroke-width="10" stroke-linecap="round" fill="none"/>
<rect x="811" y="58.5" width="31" height="31" fill="#f00"/>
<text transform="translate(904.8 94) scale(1 1.04)">200um<tspan dy="2" stroke="#000" stroke-width="3">_</tspan><tspan dy="-2">30%</tspan></text>
<path d="M764 143.5H804.5M848.5 143.5H890" stroke="#f00" stroke-width="10" stroke-linecap="round" fill="none"/>
<polygon points="826.5,118.8 847.9,155.8 805.1,155.8" fill="#f00"/>
<text transform="translate(904.8 162.5) scale(1 1.04)">200um<tspan dy="2" stroke="#000" stroke-width="3">_</tspan><tspan dy="-2">70%</tspan></text>
<path d="M764 212H804.5M848.5 212H890" stroke="#f00" stroke-width="10" stroke-linecap="round" fill="none"/>
<polygon points="826.5,189.5 832,203 846.5,204 835.3,213.4 838.8,227.5 826.5,219.8 814.2,227.5 817.7,213.4 806.5,204 821,203" fill="#f00" stroke="#f00" stroke-width="1" stroke-linejoin="bevel"/>
<text transform="translate(904.8 231) scale(1 1.04)">200um<tspan dy="2" stroke="#000" stroke-width="3">_</tspan><tspan dy="-2">110%</tspan></text>
<path d="M1290 75H1330.5M1374.5 75H1416" stroke="#00f" stroke-width="10" stroke-linecap="round" fill="none"/>
<rect x="1337" y="58.5" width="31" height="31" fill="#00f"/>
<text transform="translate(1430.8 94) scale(1 1.04)">250um<tspan dy="2" stroke="#000" stroke-width="3">_</tspan><tspan dy="-2">30%</tspan></text>
<path d="M1290 143.5H1330.5M1374.5 143.5H1416" stroke="#00f" stroke-width="10" stroke-linecap="round" fill="none"/>
<polygon points="1352.5,118.8 1373.9,155.8 1331.1,155.8" fill="#00f"/>
<text transform="translate(1430.8 162.5) scale(1 1.04)">250um<tspan dy="2" stroke="#000" stroke-width="3">_</tspan><tspan dy="-2">70%</tspan></text>
<path d="M1290 212H1330.5M1374.5 212H1416" stroke="#00f" stroke-width="10" stroke-linecap="round" fill="none"/>
<polygon points="1352.5,189.5 1358,203 1372.5,204 1361.3,213.4 1364.8,227.5 1352.5,219.8 1340.2,227.5 1343.7,213.4 1332.5,204 1347,203" fill="#00f" stroke="#00f" stroke-width="1" stroke-linejoin="bevel"/>
<text transform="translate(1430.8 231) scale(1 1.04)">250um<tspan dy="2" stroke="#000" stroke-width="3">_</tspan><tspan dy="-2">110%</tspan></text>
</g>
</svg>
</body></html>
